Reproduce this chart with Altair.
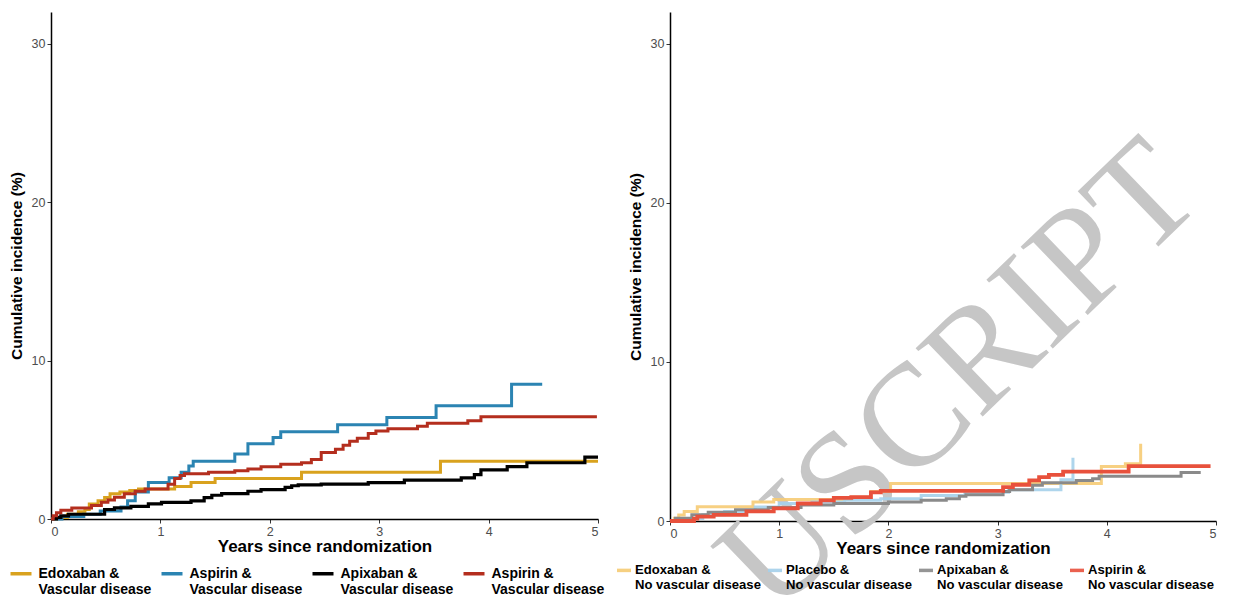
import altair as alt
import pandas as pd

# ---------------- Left panel: vascular disease ----------------
L_NAMES = [
    "Edoxaban &|Vascular disease",
    "Aspirin &|Vascular disease ",
    "Apixaban &|Vascular disease",
    "Aspirin &|Vascular disease",
]
L_COLORS = ["#D9A21E", "#2B84B2", "#000000", "#B42E1E"]

edox_v_t = [0, 0.05, 0.15, 0.25, 0.31, 0.35, 0.43, 0.49, 0.54, 0.63, 0.72, 0.8, 1.13, 1.28, 1.5, 2.29, 3.56, 5.0]
edox_v_y = [0, 0.1, 0.3, 0.45, 0.6, 0.95, 1.15, 1.35, 1.6, 1.7, 1.8, 1.9, 2.05, 2.3, 2.55, 2.95, 3.65, 3.65]

aspb_v_t = [0, 0.1, 0.3, 0.45, 0.64, 0.7, 0.77, 0.89, 1.08, 1.19, 1.26, 1.3, 1.68, 1.8, 2.03, 2.1, 2.62, 3.07, 3.52, 4.21, 4.49]
aspb_v_y = [0, 0.15, 0.3, 0.5, 0.75, 1.15, 1.7, 2.3, 2.6, 2.95, 3.35, 3.65, 4.1, 4.75, 5.15, 5.5, 5.95, 6.4, 7.15, 8.5, 8.5]

apix_v_t = [0, 0.05, 0.09, 0.16, 0.49, 0.58, 0.73, 0.89, 1.01, 1.28, 1.4, 1.47, 1.56, 1.8, 1.92, 2.14, 2.2, 2.26, 2.47, 2.9, 3.23, 3.75, 3.87, 3.93, 4.17, 4.35, 4.88, 5.0]
apix_v_y = [0, 0.1, 0.2, 0.3, 0.6, 0.7, 0.8, 0.95, 1.05, 1.15, 1.35, 1.5, 1.6, 1.75, 1.85, 2.0, 2.1, 2.15, 2.2, 2.3, 2.45, 2.6, 2.8, 3.1, 3.3, 3.55, 3.9, 3.9]

aspr_v_t = [0, 0.02, 0.05, 0.09, 0.19, 0.37, 0.46, 0.52, 0.58, 0.67, 0.77, 0.86, 1.07, 1.13, 1.18, 1.22, 1.44, 1.68, 1.8, 1.92, 2.1, 2.29, 2.38, 2.47, 2.6, 2.67, 2.73, 2.8, 2.9, 2.97, 3.08, 3.35, 3.44, 3.81, 3.93, 4.99]
aspr_v_y = [0, 0.2, 0.4, 0.55, 0.7, 0.85, 1.05, 1.2, 1.37, 1.6, 1.75, 1.9, 2.2, 2.55, 2.75, 2.85, 2.95, 3.05, 3.15, 3.3, 3.45, 3.55, 3.75, 4.2, 4.4, 4.65, 4.9, 5.1, 5.4, 5.55, 5.7, 5.85, 6.05, 6.2, 6.45, 6.45]

# ---------------- Right panel: no vascular disease ----------------
R_NAMES = [
    "Edoxaban &|No vascular disease",
    "Placebo &|No vascular disease",
    "Apixaban &|No vascular disease",
    "Aspirin &|No vascular disease",
]
R_COLORS = ["#F6CB74", "#A5D0EA", "#8A8A8A", "#E8513C"]

edox_n_t = [0, 0.04, 0.08, 0.13, 0.25, 0.76, 0.95, 1.66, 1.84, 2.02, 3.95, 4.17, 4.31, 4.31]
edox_n_y = [0, 0.17, 0.38, 0.6, 0.9, 1.2, 1.35, 1.5, 1.85, 2.35, 3.43, 3.6, 3.6, 4.85]

plac_n_t = [0, 0.1, 0.3, 0.5, 0.78, 1.0, 1.3, 1.6, 1.93, 2.3, 2.7, 3.1, 3.58, 3.69, 3.69]
plac_n_y = [0, 0.15, 0.4, 0.6, 0.88, 1.1, 1.2, 1.3, 1.4, 1.6, 1.8, 1.97, 2.6, 2.6, 3.97]

apix_n_t = [0, 0.05, 0.2, 0.35, 0.6, 0.9, 1.2, 1.5, 2.0, 2.3, 2.53, 2.65, 2.71, 3.05, 3.11, 3.32, 3.41, 3.72, 3.87, 3.93, 4.68, 4.86]
apix_n_y = [0, 0.17, 0.4, 0.55, 0.7, 0.85, 1.0, 1.1, 1.2, 1.3, 1.4, 1.55, 1.65, 1.86, 1.97, 2.24, 2.4, 2.55, 2.66, 2.82, 3.05, 3.05]

aspr_n_t = [0, 0.22, 0.25, 0.4, 0.7, 0.95, 1.17, 1.38, 1.5, 1.66, 1.84, 1.93, 3.05, 3.14, 3.29, 3.38, 3.47, 3.6, 4.2, 4.95]
aspr_n_y = [0, 0.15, 0.27, 0.38, 0.6, 0.8, 1.1, 1.3, 1.45, 1.5, 1.8, 1.9, 2.13, 2.28, 2.55, 2.76, 2.9, 3.1, 3.45, 3.45]

WATERMARK = ["USCRIPT"]

X_TICKS = [0, 1, 2, 3, 4, 5]
Y_TICKS = [0, 10, 20, 30]
X_TITLE = "Years since randomization"
Y_TITLE = "Cumulative incidence (%)"


def frame(name, ts, ys):
    return pd.DataFrame({"series": name, "t": ts, "v": ys, "i": list(range(len(ts)))})


left_df = pd.concat([
    frame(L_NAMES[0], edox_v_t, edox_v_y),
    frame(L_NAMES[1], aspb_v_t, aspb_v_y),
    frame(L_NAMES[2], apix_v_t, apix_v_y),
    frame(L_NAMES[3], aspr_v_t, aspr_v_y),
], ignore_index=True)

right_df = pd.concat([
    frame(R_NAMES[0], edox_n_t, edox_n_y),
    frame(R_NAMES[1], plac_n_t, plac_n_y),
    frame(R_NAMES[2], apix_n_t, apix_n_y),
    frame(R_NAMES[3], aspr_n_t, aspr_n_y),
], ignore_index=True)


def legend(x, y, sym, off, colpad, fs):
    return alt.Legend(
        orient="none", legendX=x, legendY=y, direction="horizontal", columns=4,
        title=None, symbolType="stroke", symbolSize=sym * sym, symbolStrokeWidth=3.5,
        labelFontSize=fs, labelFontWeight="bold", labelColor="black",
        labelFont="Liberation Sans", labelExpr="split(datum.label, '|')",
        labelLimit=250, labelOffset=off, columnPadding=colpad, labelBaseline="middle",
        padding=0,
    )


def panel(df, names, colors, widths, opacities, leg):
    base = alt.Chart(df)
    enc = dict(
        x=alt.X("t:Q", scale=alt.Scale(domain=[0, 5], nice=False),
                axis=alt.Axis(values=X_TICKS, title=X_TITLE, format="d", titlePadding=1,
                              titleFontSize=17)),
        y=alt.Y("v:Q", scale=alt.Scale(domain=[0, 32], nice=False),
                axis=alt.Axis(values=Y_TICKS, title=Y_TITLE, titlePadding=7,
                              titleFontSize=15.5)),
        color=alt.Color("series:N", scale=alt.Scale(domain=names, range=colors),
                        legend=leg),
        order=alt.Order("i:Q"),
    )
    layers = []
    for n, sw, op in zip(names, widths, opacities):
        layers.append(
            base.transform_filter(alt.datum.series == n)
            .mark_line(interpolate="step-after", strokeWidth=sw, opacity=op)
            .encode(**enc)
        )
    return layers


left_layers = panel(left_df, L_NAMES, L_COLORS, [3, 3, 3.2, 3], [1, 1, 1, 1],
                    legend(-42.5, 549, 21, 5, 3, 14))
left = alt.layer(*left_layers).properties(width=547, height=507)

wm = alt.Chart(pd.DataFrame({"w": WATERMARK})).mark_text(
    font="Liberation Serif", fontSize=146, color="#C6C6C6", angle=316,
    align="center", baseline="middle",
).encode(text="w:N", x=alt.value(290), y=alt.value(365))

right_layers = panel(right_df, R_NAMES, R_COLORS, [3, 3, 3, 3.8], [0.9, 0.9, 1, 1],
                     legend(-55, 549, 14, 2, 0, 13.1))
right = alt.layer(wm, *right_layers).properties(width=546, height=509)

chart = (
    alt.hconcat(left, right, spacing=10)
    .resolve_scale(color="independent")
    .properties(padding={"left": 0, "top": 4, "right": 0, "bottom": 0}, background="white")
    .configure_view(stroke=None)
    .configure_axis(
        grid=False, domainColor="black", domainWidth=1.5, tickColor="#333333",
        tickSize=4, tickWidth=1, labelFontSize=12.5, labelColor="#4D4D4D",
        labelFont="Liberation Sans", titleFont="Liberation Sans",
        titleFontWeight="bold", titleColor="black", labelPadding=2,
    )
)

chart.save("out.html", embed_options={"renderer": "svg", "actions": False})
